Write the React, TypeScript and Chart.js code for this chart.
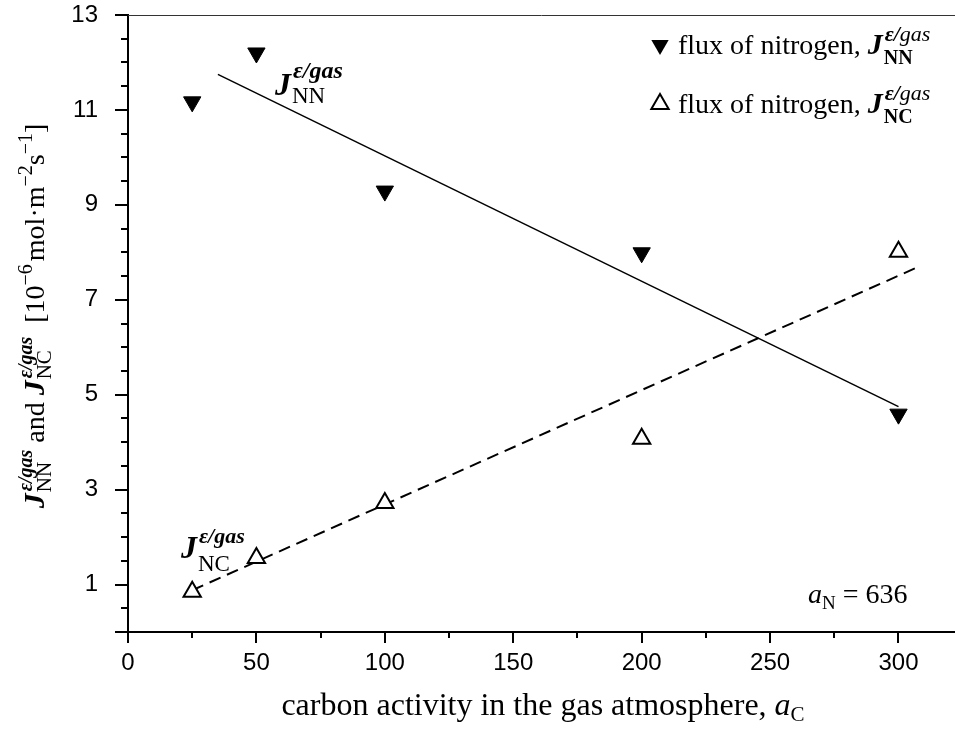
import React, { useEffect, useRef } from "react";
import { Chart, registerables } from "chart.js";

Chart.register(...registerables);

// ---- data ----
const CARBON_ACTIVITY = [25, 50, 100, 200, 300];
const FLUX_NN = [11.17, 12.2, 9.29, 7.99, 4.59];
const FLUX_NC = [0.85, 1.56, 2.72, 4.07, 8.01];
const FIT_NN_X = [35, 300];
const FIT_NN_Y = [11.75, 4.75];
const FIT_NC_X = [25, 308];
const FIT_NC_Y = [0.88, 7.7];
const X_TICKS = [0, 50, 100, 150, 200, 250, 300];
const X_MINOR = [25, 75, 125, 175, 225, 275];
const Y_TICKS = [1, 3, 5, 7, 9, 11, 13];
const Y_MINOR = [0.5, 1.5, 2, 2.5, 3.5, 4, 4.5, 5.5, 6, 6.5, 7.5, 8, 8.5, 9.5, 10, 10.5, 11.5, 12, 12.5];
const A_N = 636;

const SERIF = '"Liberation Serif", "Times New Roman", serif';
const SANS = '"Liberation Sans", Arial, sans-serif';
const f = (size: number, style = "") => `${style} ${size}px ${SERIF}`;

type Run = { t: string; f: string; dy?: number; dx?: number };
type Stack = { sup: Run[]; sub: Run[]; dx?: number; subDx?: number };
type Item = Run | Stack;

function layout(ctx: CanvasRenderingContext2D, items: Item[], x: number, y: number, draw: boolean): number {
  let cx = x;
  for (const it of items) {
    if ("t" in it) {
      ctx.font = it.f;
      const dx = it.dx || 0;
      if (draw) ctx.fillText(it.t, cx + dx, y + (it.dy || 0));
      cx += ctx.measureText(it.t).width + dx;
    } else {
      const sx = cx + (it.dx || 0);
      const a = layout(ctx, it.sup, sx, y, draw);
      const b = layout(ctx, it.sub, sx + (it.subDx || 0), y, draw) + (it.subDx || 0);
      cx = sx + Math.max(a, b);
    }
  }
  return cx - x;
}

function jTerm(sub: string, jSize: number, supSize: number, subSize: number, supDy: number, subDy: number, legend: boolean): Item[] {
  const sup: Run[] = legend
    ? [
        { t: "ε/", f: f(supSize, "italic bold"), dy: supDy },
        { t: "gas", f: f(supSize, "italic"), dy: supDy },
      ]
    : [{ t: "ε/gas", f: f(supSize, "italic bold"), dy: supDy }];
  return [
    { t: "J", f: f(jSize, "italic bold") },
    { sup, sub: [{ t: sub, f: f(subSize, legend ? "bold" : ""), dy: subDy }], dx: 2, subDx: -1 },
  ];
}

function tri(ctx: CanvasRenderingContext2D, x: number, y: number, r: number, down: boolean, filled: boolean) {
  const s = down ? -1 : 1;
  ctx.beginPath();
  ctx.moveTo(x, y - s * r);
  ctx.lineTo(x + 0.866 * r, y + s * 0.5 * r);
  ctx.lineTo(x - 0.866 * r, y + s * 0.5 * r);
  ctx.closePath();
  if (filled) {
    ctx.fillStyle = "#000";
    ctx.fill();
  } else {
    ctx.fillStyle = "#fff";
    ctx.fill();
    ctx.lineWidth = 2;
    ctx.strokeStyle = "#000";
    ctx.stroke();
  }
}

const zeroPad = (s: any) => {
  s.paddingLeft = 0;
  s.paddingRight = 0;
  s.paddingTop = 0;
  s.paddingBottom = 0;
};

const decor = {
  id: "decor",
  afterDraw(chart: any) {
    const ctx: CanvasRenderingContext2D = chart.ctx;
    const { left, right, top, bottom } = chart.chartArea;
    const xs = chart.scales.x;
    const ys = chart.scales.y;
    ctx.save();
    // top frame line
    ctx.strokeStyle = "#333";
    ctx.lineWidth = 1;
    ctx.beginPath();
    ctx.moveTo(left, top + 0.5);
    ctx.lineTo(chart.width, top + 0.5);
    ctx.stroke();
    // minor ticks
    ctx.strokeStyle = "#000";
    ctx.lineWidth = 2;
    ctx.beginPath();
    for (const v of X_MINOR) {
      const px = Math.round(xs.getPixelForValue(v));
      ctx.moveTo(px, bottom);
      ctx.lineTo(px, bottom + 6);
    }
    for (const v of Y_MINOR) {
      const py = Math.round(ys.getPixelForValue(v));
      ctx.moveTo(left - 7, py);
      ctx.lineTo(left, py);
    }
    const p0 = Math.round(ys.getPixelForValue(0));
    ctx.moveTo(left - 13, p0);
    ctx.lineTo(left, p0);
    ctx.stroke();

    ctx.fillStyle = "#000";
    ctx.textAlign = "left";
    ctx.textBaseline = "alphabetic";

    // annotations near the fit lines
    layout(ctx, jTerm("NN", 32, 24, 23, -17, 8, false), 275, 95, true);
    layout(ctx, jTerm("NC", 32, 22, 23, -15, 13, false), 181, 558, true);

    // a_N = 636
    layout(
      ctx,
      [
        { t: "a", f: f(28, "italic") },
        { t: "N", f: f(19), dy: 6 },
        { t: " = " + A_N, f: f(28) },
      ],
      808,
      603,
      true
    );

    // legend
    const rows = [
      { sub: "NN", y: 45, down: true, filled: true },
      { sub: "NC", y: 104, down: false, filled: false },
    ];
    for (const r of rows) {
      tri(ctx, 660, r.y, 10, r.down, r.filled);
      ctx.fillStyle = "#000";
      layout(
        ctx,
        [{ t: "flux of nitrogen, ", f: f(28) }, ...jTerm(r.sub, 30, 22, 20, -13, 10, true)],
        678,
        r.y + 9,
        true
      );
    }

    // x axis title
    const xt: Item[] = [
      { t: "carbon activity in the gas atmosphere, ", f: f(32) },
      { t: "a", f: f(32, "italic") },
      { t: "C", f: f(21), dy: 6 },
    ];
    const xw = layout(ctx, xt, 0, 0, false);
    layout(ctx, xt, 543 - xw / 2, 715, true);

    // y axis title (rotated)
    const yt: Item[] = [
      ...jTerm("NN", 30, 20, 21, -12, 7, false),
      { t: " and ", f: f(28) },
      ...jTerm("NC", 30, 20, 21, -12, 7, false),
      { t: "  [10", f: f(28) },
      { t: "−6", f: f(20), dy: -12 },
      { t: "mol·m", f: f(28), dx: 3 },
      { t: "−2", f: f(20), dy: -12 },
      { t: "s", f: f(28) },
      { t: "−1", f: f(20), dy: -12 },
      { t: "]", f: f(28) },
    ];
    const yw = layout(ctx, yt, 0, 0, false);
    ctx.translate(44, 316);
    ctx.rotate(-Math.PI / 2);
    layout(ctx, yt, -yw / 2, 0, true);
    ctx.restore();
  },
};

export default function App() {
  const ref = useRef<HTMLCanvasElement | null>(null);
  useEffect(() => {
    if (!ref.current) return;
    const pts = (xs: number[], ys: number[]) => xs.map((x, i) => ({ x, y: ys[i] }));
    const chart = new Chart(ref.current, {
      type: "scatter",
      data: {
        datasets: [
          {
            label: "flux NN",
            data: pts(CARBON_ACTIVITY, FLUX_NN),
            pointStyle: "triangle",
            rotation: 180,
            pointRadius: 10,
            backgroundColor: "#000",
            borderColor: "#000",
            borderWidth: 1,
            order: 0,
          },
          {
            label: "flux NC",
            data: pts(CARBON_ACTIVITY, FLUX_NC),
            pointStyle: "triangle",
            pointRadius: 10,
            backgroundColor: "#fff",
            borderColor: "#000",
            borderWidth: 2,
            order: 0,
          },
          {
            label: "fit NN",
            data: pts(FIT_NN_X, FIT_NN_Y),
            showLine: true,
            pointRadius: 0,
            borderColor: "#000",
            borderWidth: 1.5,
            order: 1,
          },
          {
            label: "fit NC",
            data: pts(FIT_NC_X, FIT_NC_Y),
            showLine: true,
            pointRadius: 0,
            borderColor: "#000",
            borderWidth: 2,
            borderDash: [12, 7],
            order: 1,
          },
        ],
      } as any,
      options: {
        responsive: false,
        animation: false,
        devicePixelRatio: 1,
        layout: { autoPadding: false, padding: { top: 15, right: 0, left: 0, bottom: 0 } },
        plugins: { legend: { display: false }, tooltip: { enabled: false } },
        scales: {
          x: {
            type: "linear",
            min: 0,
            max: 322,
            afterBuildTicks: (s: any) => {
              s.ticks = X_TICKS.map((value) => ({ value }));
            },
            afterFit: (s: any) => {
              s.height = 101;
              zeroPad(s);
            },
            grid: {
              drawOnChartArea: false,
              drawTicks: true,
              tickLength: 11,
              tickWidth: 2,
              tickColor: "#000",
              color: "#000",
              lineWidth: 2,
            },
            border: { display: true, color: "#000", width: 2 },
            ticks: {
              color: "#000",
              font: { family: SANS, size: 24 },
              padding: 6,
              maxRotation: 0,
              autoSkip: false,
            },
          },
          y: {
            type: "linear",
            min: 0,
            max: 13,
            afterBuildTicks: (s: any) => {
              s.ticks = Y_TICKS.map((value) => ({ value }));
            },
            afterFit: (s: any) => {
              s.width = 128;
              zeroPad(s);
            },
            grid: {
              drawOnChartArea: false,
              drawTicks: true,
              tickLength: 13,
              tickWidth: 2,
              tickColor: "#000",
              color: "#000",
              lineWidth: 2,
            },
            border: { display: true, color: "#000", width: 2 },
            ticks: {
              color: "#000",
              font: { family: SANS, size: 24 },
              padding: 17,
              autoSkip: false,
            },
          },
        },
      } as any,
      plugins: [decor],
    });
    return () => chart.destroy();
  }, []);
  return (
    <div style={{ position: "fixed", left: 0, top: 0, width: 955, height: 733, background: "#fff" }}>
      <canvas ref={ref} width={955} height={733} style={{ display: "block" }} />
    </div>
  );
}
